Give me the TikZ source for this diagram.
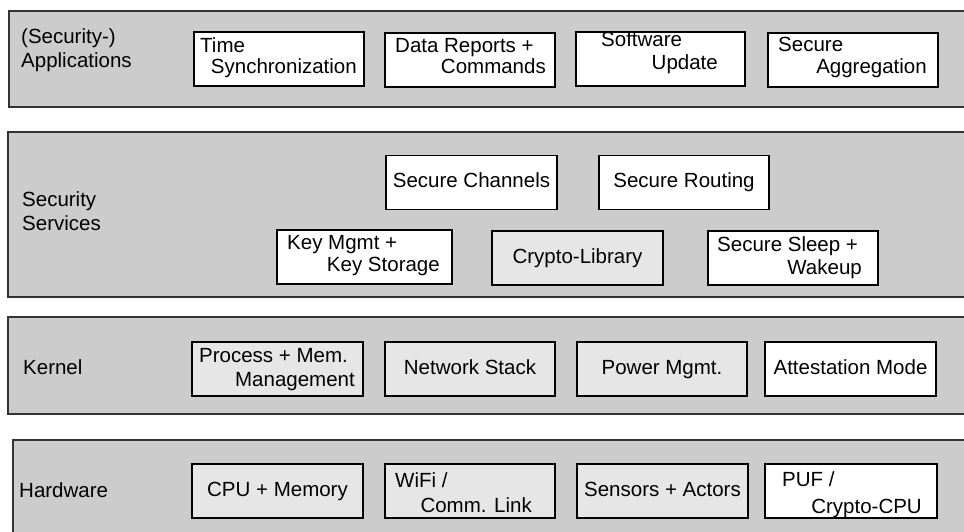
\documentclass[tikz,border=0pt]{standalone}
\usepackage{fontspec}
\setmainfont{Liberation Sans}
\definecolor{layerfill}{HTML}{CCCCCC}
\definecolor{boxgray}{HTML}{E6E6E6}
\definecolor{layeredge}{HTML}{333333}
\begin{document}
\begin{tikzpicture}[x=1pt, y=-1pt,
  every node/.style={font=\fontsize{20.5}{24}\selectfont},
  layer/.style={draw=layeredge, line width=1.5pt, fill=layerfill},
  unitbox/.style={draw=black, line width=1.2pt, fill=white,
    minimum width=171pt, minimum height=54pt, inner sep=0pt,
    text height=14pt, text depth=4pt},
  graybox/.style={unitbox, fill=boxgray},
  txt/.style={inner sep=0pt},
  lft/.style={txt, anchor=base west},
  rgt/.style={txt, anchor=base east}]

\useasboundingbox (0,0) rectangle (964,531);
\clip (0,0) rectangle (964,531);

% layer backgrounds
\draw[layer] (9,11) rectangle (980,107);
\draw[layer] (8,132) rectangle (980,297);
\draw[layer] (8,317) rectangle (980,414);
\draw[layer] (13,440) rectangle (980,545);

% layer titles
\node[lft] (tapp1) at (21,43) {(Security-)};
\node[lft] (tapp2) at (21,67) {Applications};
\node[lft] (tsrv1) at (22,206) {Security};
\node[lft] (tsrv2) at (22,230) {Services};
\node[lft] (tker) at (23,374) {Kernel};
\node[lft] (thw) at (19,497) {Hardware};

% applications
\node[unitbox, minimum width=170pt] (ts) at (279,59) {};
\node[lft] (ts1) at (200,52) {Time};
\node[rgt] (ts2) at (357,73) {Synchronization};
\node[unitbox, minimum width=170pt] (dr) at (470,60) {};
\node[lft] (dr1) at (395,52) {Data Reports +};
\node[rgt] (dr2) at (546,73) {Commands};
\node[unitbox, minimum width=169pt] (su) at (660.5,59) {};
\node[lft] (su1) at (601,46) {Software};
\node[rgt] (su2) at (718,69) {Update};
\node[unitbox, minimum width=170pt] (sa) at (853,60) {};
\node[lft] (sa1) at (778,51) {Secure};
\node[rgt] (sa2) at (927,73) {Aggregation};

% security services
\node[unitbox] (sc) at (471.5,182.5) {Secure Channels};
\node[unitbox, minimum width=170pt] (sr) at (684,182.5) {Secure Routing};
\node[unitbox, minimum width=175pt] (km) at (364.5,257) {};
\node[lft] (km1) at (287,249) {Key Mgmt +};
\node[rgt] (km2) at (440,271) {Key Storage};
\node[graybox] (cl) at (577.5,258) {Crypto-Library};
\node[unitbox, minimum width=170pt] (ss) at (793,258) {};
\node[lft] (ss1) at (717,251) {Secure Sleep +};
\node[rgt] (ss2) at (862,274) {Wakeup};

% kernel
\node[graybox] (pm) at (277.5,369) {};
\node[lft] (pm1) at (199,362) {Process + Mem.};
\node[rgt] (pm2) at (355,386) {Management};
\node[graybox, minimum width=170pt] (ns) at (470,369) {Network Stack};
\node[graybox, minimum width=170pt] (pw) at (662,369) {Power Mgmt.};
\node[unitbox] (am) at (850.5,369) {Attestation Mode};

% hardware
\node[graybox] (cpu) at (277.5,491) {CPU + Memory};
\node[graybox, minimum width=170pt] (wifi) at (470,491) {};
\node[lft] (wifi1) at (395,487) {WiFi /};
\node[rgt] (wifi2) at (532,512) {Comm. Link};
\node[graybox] (sen) at (662.5,491) {Sensors + Actors};
\node[unitbox, minimum width=172pt] (puf) at (851,491) {};
\node[lft] (puf1) at (782,486) {PUF /};
\node[rgt] (puf2) at (922,513) {Crypto-CPU};
\end{tikzpicture}
\end{document}
